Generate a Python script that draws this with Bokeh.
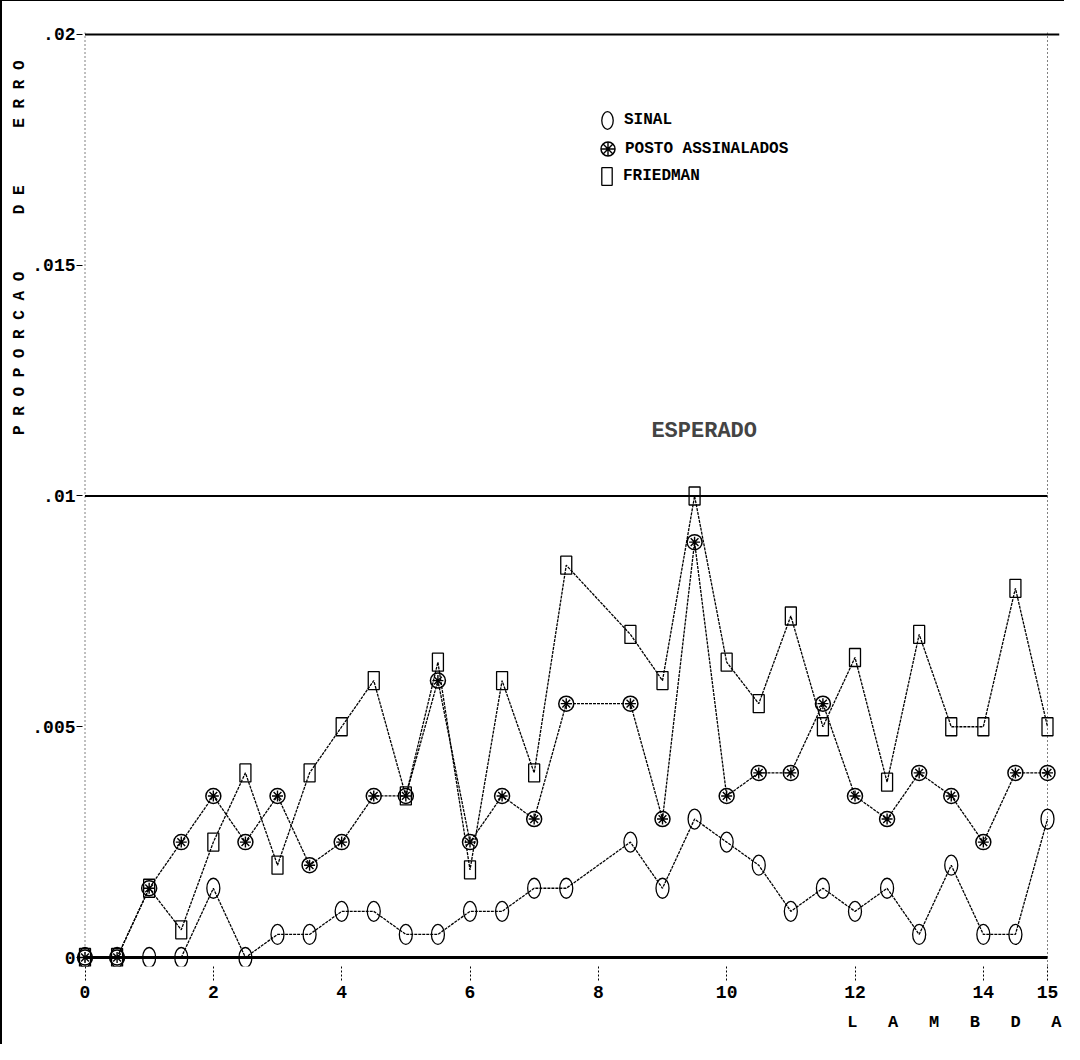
import math
from bokeh.plotting import figure
from bokeh.models import Range1d, FixedTicker, Legend, LegendItem, Label, Span, Title
from bokeh.embed import file_html
from bokeh.resources import INLINE

# ---------------- data ----------------
lam = [0, 0.5, 1, 1.5, 2, 2.5, 3, 3.5, 4, 4.5, 5, 5.5, 6, 6.5, 7, 7.5,
       8.5, 9, 9.5, 10, 10.5, 11, 11.5, 12, 12.5, 13, 13.5, 14, 14.5, 15]
sinal = [0, 0, 0, 0, 0.0015, 0, 0.0005, 0.0005, 0.001, 0.001, 0.0005, 0.0005,
         0.001, 0.001, 0.0015, 0.0015, 0.0025, 0.0015, 0.003, 0.0025, 0.002,
         0.001, 0.0015, 0.001, 0.0015, 0.0005, 0.002, 0.0005, 0.0005, 0.003]
posto = [0, 0, 0.0015, 0.0025, 0.0035, 0.0025, 0.0035, 0.002, 0.0025, 0.0035,
         0.0035, 0.006, 0.0025, 0.0035, 0.003, 0.0055, 0.0055, 0.003, 0.009,
         0.0035, 0.004, 0.004, 0.0055, 0.0035, 0.003, 0.004, 0.0035, 0.0025,
         0.004, 0.004]
friedman = [0, 0, 0.0015, 0.0006, 0.0025, 0.004, 0.002, 0.004, 0.005, 0.006,
            0.0035, 0.0064, 0.0019, 0.006, 0.004, 0.0085, 0.007, 0.006, 0.01,
            0.0064, 0.0055, 0.0074, 0.005, 0.0065, 0.0038, 0.007, 0.005, 0.005,
            0.008, 0.005]
x_ticks = [0, 2, 4, 6, 8, 10, 12, 14, 15]
y_ticks = [0, 0.005, 0.01, 0.015, 0.02]
y_tick_labels = ["0", ".005", ".01", ".015", ".02"]
esperado = 0.01
y_top = 0.02
x_last = 15
series_names = ["SINAL", "POSTO ASSINALADOS", "FRIEDMAN"]
x_title_words = ["LAMBDA"]
y_title_words = ["PROPORCAO", "DE", "ERRO"]

NB = "\u00a0"


def spaced(words, letter_gap, word_gap):
    return (NB * word_gap).join((NB * letter_gap).join(w) for w in words)


FONT = "Liberation Mono"

p = figure(width=1064, height=1044,
           x_range=Range1d(-0.1325, 15.187), y_range=Range1d(-0.000195, 0.020043),
           output_backend="svg", toolbar_location=None,
           min_border_left=74, min_border_right=7, min_border_top=31, min_border_bottom=79)
p.outline_line_color = None
p.grid.visible = False
p.background_fill_color = "white"
p.border_fill_color = "white"
p.styles = {"border-left": "2px solid black", "border-top": "1px solid black"}

# x axis
xa = p.xaxis[0]
xa.ticker = FixedTicker(ticks=x_ticks)
xa.axis_line_color = None
xa.major_tick_in = 0
xa.major_tick_out = 14
xa.major_tick_line_dash = "2 2"
xa.major_tick_line_width = 1
xa.minor_tick_line_color = None
xa.major_label_standoff = 5
xa.major_label_text_font = FONT
xa.major_label_text_font_size = "18px"
xa.major_label_text_font_style = "bold"
xa.major_label_text_color = "black"

# y axis
ya = p.yaxis[0]
ya.ticker = FixedTicker(ticks=y_ticks)
ya.major_label_overrides = dict(zip(y_ticks, y_tick_labels))
ya.axis_line_color = None
ya.major_tick_in = 6
ya.major_tick_out = 0
ya.minor_tick_line_color = None
ya.major_label_standoff = 1
ya.major_label_text_font = FONT
ya.major_label_text_font_size = "18px"
ya.major_label_text_font_style = "bold"
ya.major_label_text_color = "black"

# axis titles
p.add_layout(Title(text=spaced(y_title_words, 1, 6), align="right", offset=28, standoff=2,
                   text_font=FONT, text_font_size="16px", text_font_style="bold",
                   text_color="black"), "left")
p.add_layout(Title(text=spaced(x_title_words, 3, 3), align="right", offset=-2, standoff=20,
                   text_font=FONT, text_font_size="17px", text_font_style="bold",
                   text_color="black"), "below")

# frame decorations
p.add_layout(Span(location=0, dimension="height", line_color="black", line_dash="1 3", line_width=1))
p.add_layout(Span(location=x_last, dimension="height", line_color="black", line_dash="1 3", line_width=1))
p.segment(x0=[0], y0=[y_top], x1=[15.187], y1=[y_top], line_color="black", line_width=2)
p.segment(x0=[0], y0=[0], x1=[x_last], y1=[0], line_color="black", line_width=3)
p.segment(x0=[0], y0=[esperado], x1=[x_last], y1=[esperado], line_color="black", line_width=2)

# series lines
for ys in (sinal, posto, friedman):
    p.line(lam, ys, line_color="black", line_width=1.3, line_dash="3 1")

# markers
r_s = p.ellipse(x=lam, y=sinal, width=13, height=20, width_units="screen",
                height_units="screen", fill_alpha=0, line_color="black", line_width=1.3)
r_p1 = p.scatter(x=lam, y=posto, marker="circle", size=15, fill_alpha=0,
                 line_color="black", line_width=1.5)
r_p2 = p.scatter(x=lam, y=posto, marker="asterisk", size=11,
                 line_color="black", line_width=1.4)
r_f = p.rect(x=lam, y=friedman, width=11, height=18, width_units="screen",
             height_units="screen", fill_alpha=0, line_color="black", line_width=1.3)

common = dict(border_line_alpha=0, background_fill_alpha=0,
              label_text_font=FONT, label_text_font_size="16px",
              label_text_font_style="bold", label_text_color="black",
              padding=0, margin=0, spacing=0)
p.add_layout(Legend(items=[LegendItem(label=series_names[0], renderers=[r_s])],
                    location=(520, 835), glyph_width=22, glyph_height=22,
                    label_height=22, label_standoff=6, **common))
p.add_layout(Legend(items=[LegendItem(label=series_names[1], renderers=[r_p1, r_p2])],
                    location=(514, 800), glyph_width=35, glyph_height=35,
                    label_height=35, label_standoff=0, **common))
p.add_layout(Legend(items=[LegendItem(label=series_names[2], renderers=[r_f])],
                    location=(524, 779), glyph_width=13, glyph_height=22,
                    label_height=22, label_standoff=10, **common))

# texts
p.add_layout(Label(x=9.65, y=0.0114, text="ESPERADO", text_font=FONT,
                   text_font_size="22px", text_font_style="bold",
                   text_align="center", text_baseline="middle"))

open("out.html", "w").write(file_html(p, INLINE))
